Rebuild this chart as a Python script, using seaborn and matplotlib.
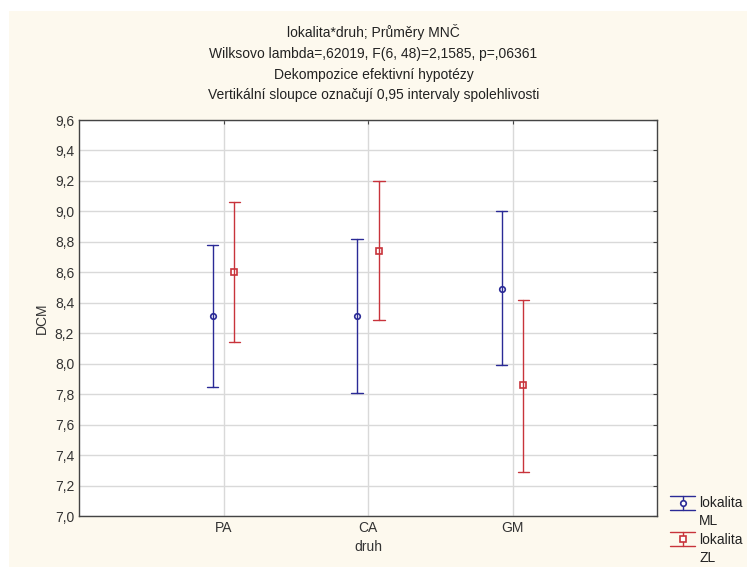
import numpy as np
import pandas as pd
import matplotlib
matplotlib.use('Agg')
import matplotlib.pyplot as plt
from matplotlib.lines import Line2D
from matplotlib.legend_handler import HandlerBase
import seaborn as sns

# data (mean and 0.95 CI)
druh = ['PA', 'CA', 'GM']
lokalita = ['ML', 'ZL']
ml_mean = [8.31, 8.31, 8.49]
ml_low = [7.85, 7.81, 7.99]
ml_high = [8.78, 8.82, 9.00]
zl_mean = [8.60, 8.74, 7.86]
zl_low = [8.14, 8.29, 7.29]
zl_high = [9.06, 9.20, 8.42]
yticks = [7.0, 7.2, 7.4, 7.6, 7.8, 8.0, 8.2, 8.4, 8.6, 8.8, 9.0, 9.2, 9.4, 9.6]

# long table: low / mean / high per group -> median = mean, 100% interval = CI
rows = []
for lok, lo, me, hi in [('ML', ml_low, ml_mean, ml_high), ('ZL', zl_low, zl_mean, zl_high)]:
    for i, d in enumerate(druh):
        for v in (lo[i], me[i], hi[i]):
            rows.append({'druh': d, 'lokalita': lok, 'DCM': v})
df = pd.DataFrame(rows)

sns.set_style('white')
plt.rcParams['font.family'] = ['Liberation Sans', 'DejaVu Sans']

bg = '#fdf9ee'
blue = '#2a2a96'
red = '#c8333b'

fig = plt.figure(figsize=(7.47, 5.67), dpi=100, facecolor='white')
# cream panel with a thin white margin at top/left, like the original export
fig.patches.append(plt.Rectangle((9 / 747, 0), 1, 1 - 11 / 567, transform=fig.transFigure,
                                 facecolor=bg, edgecolor='none', zorder=-10))
ax = fig.add_axes([79 / 747, 1 - 516 / 567, (657 - 79) / 747, (516 - 120) / 567])
ax.set_facecolor('white')

sns.pointplot(data=df, x='druh', y='DCM', hue='lokalita', order=druh,
              hue_order=lokalita, estimator='median', errorbar=('pi', 100),
              dodge=0.15, linestyle='none', markers=['o', 's'],
              palette=[blue, red], capsize=0.08, err_kws={'linewidth': 1.0},
              markersize=4, ax=ax, legend=False)

for ln in ax.lines:
    if ln.get_marker() in ('o', 's'):
        ln.set_markerfacecolor('white')
        ln.set_markeredgewidth(1.2)

ax.set_xlim(-1, 3)
ax.set_ylim(7.0, 9.6)
ax.set_yticks(yticks)
ax.set_yticklabels([f'{t:.1f}'.replace('.', ',') for t in yticks])
ax.grid(True, color='#d9d9d9', linewidth=1.0)
ax.set_axisbelow(True)
for s in ax.spines.values():
    s.set_color('#444444')
    s.set_linewidth(1.0)
ax.tick_params(axis='both', labelsize=10, length=3, direction='in', color='#444444',
               labelcolor='#333333', right=True, top=True)
ax.set_xlabel('druh', fontsize=10, color='#333333')
ax.set_ylabel('DCM', fontsize=10, color='#333333')

title = ('lokalita*druh; Průměry MNČ\n'
         'Wilksovo lambda=,62019, F(6, 48)=2,1585, p=,06361\n'
         'Dekompozice efektivní hypotézy\n'
         'Vertikální sloupce označují 0,95 intervaly spolehlivosti')
fig.text(0.5, 1 - 24 / 567, title, ha='center', va='top', fontsize=10,
         color='#222222', linespacing=1.62)


# legend symbol: wide I-beam with marker, aligned to the first text line
class HandlerIBeam(HandlerBase):
    def create_artists(self, legend, orig_handle, xdescent, ydescent, width, height,
                       fontsize, trans):
        col = orig_handle.get_color()
        mk = orig_handle.get_marker()
        yc = height / 2 - ydescent + 0.72 * fontsize
        half = 0.5 * fontsize
        x0, x1 = -xdescent, -xdescent + width
        xm = (x0 + x1) / 2
        arts = [
            Line2D([x0, x1], [yc + half, yc + half], color=col, lw=1.0),
            Line2D([x0, x1], [yc - half, yc - half], color=col, lw=1.0),
            Line2D([xm, xm], [yc - half, yc + half], color=col, lw=1.0),
            Line2D([xm], [yc], marker=mk, color=col, mfc='white', ms=4, mew=1.2),
        ]
        for a in arts:
            a.set_transform(trans)
        return arts


h_ml = Line2D([], [], color=blue, marker='o')
h_zl = Line2D([], [], color=red, marker='s')
leg = fig.legend([h_ml, h_zl], ['lokalita\nML', 'lokalita\nZL'], loc='lower left',
                 bbox_to_anchor=(670 / 747, 2 / 567), frameon=False, fontsize=10,
                 handler_map={Line2D: HandlerIBeam()},
                 handlelength=1.8, handletextpad=0.3, labelspacing=0.3,
                 borderaxespad=0, borderpad=0)
for t in leg.get_texts():
    t.set_linespacing(1.4)
    t.set_color('#222222')

fig.savefig('out.png', dpi=100, facecolor='white')
